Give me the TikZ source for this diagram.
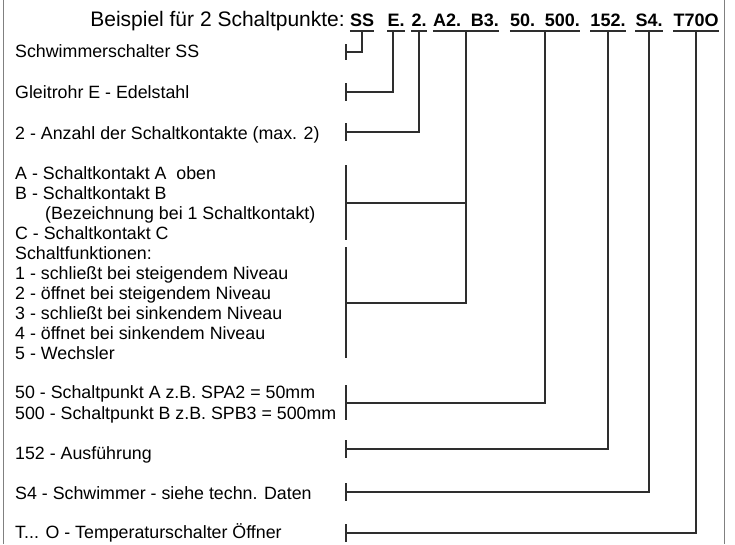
\documentclass[tikz,border=0pt]{standalone}
\usepackage{fontspec}
\setmainfont{Liberation Sans}
\begin{document}
\begin{tikzpicture}[x=1pt, y=-1pt,
    conn/.style={draw=black!82, line width=2pt},
    frame/.style={draw=black!50, line width=1pt},
    desc/.style={anchor=base west, inner sep=0pt, font=\fontsize{17.8}{20}\selectfont},
    code/.style={anchor=base, inner sep=0pt, font=\fontsize{18}{20}\selectfont\bfseries}]
  \useasboundingbox (0,0) rectangle (735,544);

  % Frame
  \draw[frame] (3,0) -- (3,544);
  \draw[frame] (724,0) -- (724,544);

  % Nodes
  \node[anchor=base east, inner sep=0pt, font=\fontsize{21}{24}\selectfont] (title) at (345,26) {Beispiel für 2 Schaltpunkte:};
  \node[code] (cSS) at (362,26) {SS};
  \node[code] (cE) at (396,26) {E.};
  \node[code] (cTwo) at (419,26) {2.};
  \node[code] (cAB) at (466,26) {A2.\hspace{0.55em}B3.};
  \node[code] (cSP) at (545,26) {50.\hspace{0.55em}500.};
  \node[code] (c152) at (608,26) {152.};
  \node[code] (cS4) at (649,26) {S4.};
  \node[code] (cT) at (696,26) {T70O};

  \node[desc] (dSS) at (15,57) {Schwimmerschalter SS};
  \node[desc] (dE) at (15,98) {Gleitrohr E - Edelstahl};
  \node[desc] (dTwo) at (15,139) {2 - Anzahl der Schaltkontakte (max. 2)};
  \foreach \t [count=\i from 0] in {{A - Schaltkontakt A\ \ oben}, {B - Schaltkontakt B},
      {\hspace*{30pt}(Bezeichnung bei 1 Schaltkontakt)}, {C - Schaltkontakt C},
      {Schaltfunktionen:}, {1 - schließt bei steigendem Niveau},
      {2 - öffnet bei steigendem Niveau}, {3 - schließt bei sinkendem Niveau},
      {4 - öffnet bei sinkendem Niveau}, {5 - Wechsler}}
    \node[desc] (dAB-\i) at (15,179+20*\i) {\t};
  \node[desc] (dSP-0) at (15,398) {50 - Schaltpunkt A z.B. SPA2 = 50mm};
  \node[desc] (dSP-1) at (15,419) {500 - Schaltpunkt B z.B. SPB3 = 500mm};
  \node[desc] (d152) at (15,459) {152 - Ausführung};
  \node[desc] (dS4) at (15,499) {S4 - Schwimmer - siehe techn. Daten};
  \node[desc] (dT) at (15,538) {T... O - Temperaturschalter Öffner};

  \coordinate (kSS) at (346,52);
  \coordinate (kE) at (346,92);
  \coordinate (kTwo) at (346,132);
  \coordinate (kAB) at (346,203);
  \coordinate (kFunc) at (346,303);
  \coordinate (kSP) at (346,403);
  \coordinate (k152) at (346,449);
  \coordinate (kS4) at (346,492);
  \coordinate (kT) at (346,533);

  % Edges
  \foreach \c in {cSS,cE,cTwo,cAB,cSP,c152,cS4,cT}
    \draw[conn] ([yshift=-5pt]\c.base west) -- ([yshift=-5pt]\c.base east);

  \draw[conn] ([yshift=-5pt]cSS.base) |- (kSS);
  \draw[conn] ([xshift=-3pt,yshift=-5pt]cE.base) |- (kE);
  \draw[conn] ([yshift=-5pt]cTwo.base) |- (kTwo);
  \draw[conn] ([yshift=-5pt]cAB.base) |- (kFunc);
  \draw[conn] (kAB) -- (kAB -| cAB);
  \draw[conn] ([yshift=-5pt]cSP.base) |- (kSP);
  \draw[conn] ([yshift=-5pt]c152.base) |- (k152);
  \draw[conn] ([yshift=-5pt]cS4.base) |- (kS4);
  \draw[conn] ([yshift=-5pt]cT.base) |- (kT);

  \draw[conn] ([yshift=8pt]kSS) -- ([yshift=-8pt]kSS);
  \draw[conn] ([yshift=9pt]kE) -- ([yshift=-9pt]kE);
  \draw[conn] ([yshift=9pt]kTwo) -- ([yshift=-9pt]kTwo);
  \draw[conn] ([yshift=38pt]kAB) -- ([yshift=-37pt]kAB);
  \draw[conn] ([yshift=56pt]kFunc) -- ([yshift=-55pt]kFunc);
  \draw[conn] ([yshift=18pt]kSP) -- ([yshift=-17pt]kSP);
  \draw[conn] ([yshift=9pt]k152) -- ([yshift=-9pt]k152);
  \draw[conn] ([yshift=9pt]kS4) -- ([yshift=-9pt]kS4);
  \draw[conn] ([yshift=9pt]kT) -- ([yshift=-9pt]kT);
\end{tikzpicture}
\end{document}
